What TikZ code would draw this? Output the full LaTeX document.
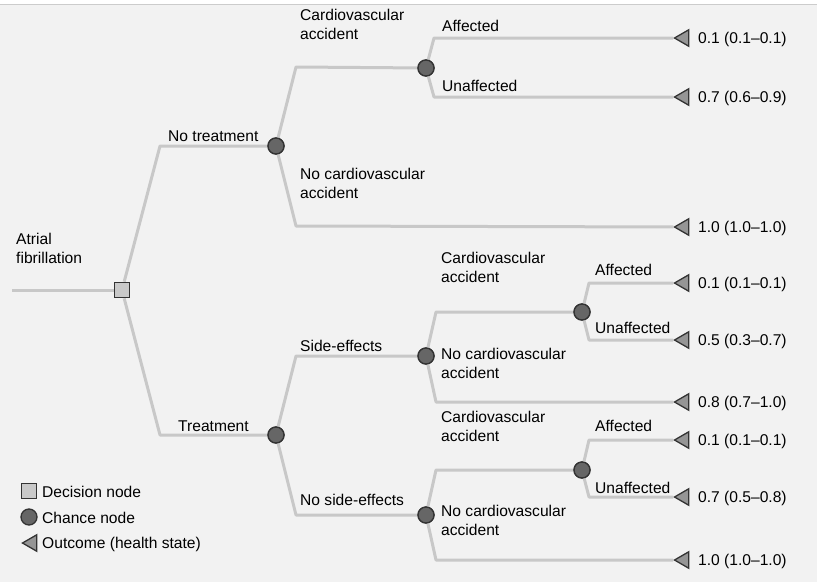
\documentclass[tikz,border=0pt]{standalone}
\usepackage{fontspec}
\setmainfont{Liberation Sans}
\usetikzlibrary{shapes.geometric}
\definecolor{bg}{HTML}{F2F2F2}
\definecolor{edgeline}{HTML}{C8C8C8}
\definecolor{chancefill}{HTML}{666666}
\definecolor{nodeborder}{HTML}{333333}
\definecolor{decfill}{HTML}{C9C9C9}
\definecolor{outfill}{HTML}{959595}
\begin{document}
\begin{tikzpicture}[x=1pt,y=-1pt,
  txt/.style={anchor=base west,inner sep=0pt,align=left,font=\fontsize{15.6}{19}\selectfont,text=black},
  branch/.style={draw=edgeline,line width=3pt,line join=round},
  chance/.style={circle,fill=chancefill,draw=nodeborder,line width=1.3pt,minimum size=16pt,inner sep=0pt},
  decision/.style={rectangle,fill=decfill,draw=nodeborder,line width=1.6pt,minimum size=15pt,inner sep=0pt},
  outcome/.style={regular polygon,regular polygon sides=3,shape border rotate=90,fill=outfill,draw=nodeborder,line width=1.3pt,minimum size=19pt,inner sep=0pt}]
\useasboundingbox (0,0) rectangle (817,582);
\fill[white] (0,0) rectangle (817,582);
\fill[bg] (0,4) rectangle (817,582);
\draw[black!20,line width=1pt] (0,4.5) -- (817,4.5);

% coordinates
\coordinate (start) at (12,290);
\coordinate (k1) at (160,146);
\coordinate (k2) at (160,435);
\coordinate (k3) at (296,67);
\coordinate (k4) at (296,226);
\coordinate (k5) at (434,38);
\coordinate (k6) at (434,97);
\coordinate (k7) at (296,356);
\coordinate (k8) at (296,515);
\coordinate (k9) at (436,312);
\coordinate (k10) at (436,402);
\coordinate (k11) at (589,283);
\coordinate (k12) at (589,340);
\coordinate (k13) at (436,470);
\coordinate (k14) at (436,560);
\coordinate (k15) at (589,440);
\coordinate (k16) at (589,497);

% nodes
\node[decision] (dec) at (122,290) {};
\node[chance] (nt) at (276,146) {};
\node[chance] (tr) at (276,435) {};
\node[chance] (cva1) at (426,68) {};
\node[chance] (se) at (426,356) {};
\node[chance] (nse) at (426,515) {};
\node[chance] (cva2) at (582,312) {};
\node[chance] (cva3) at (582,470) {};
\node[outcome] (o1) at (684,38) {};
\node[outcome] (o2) at (684,97) {};
\node[outcome] (o3) at (684,227) {};
\node[outcome] (o4) at (684,283) {};
\node[outcome] (o5) at (684,340) {};
\node[outcome] (o6) at (684,402) {};
\node[outcome] (o7) at (684,440) {};
\node[outcome] (o8) at (684,497) {};
\node[outcome] (o9) at (684,560) {};

% branches
\draw[branch] (start) -- (dec);
\draw[branch] (dec) -- (k1) -- (nt);
\draw[branch] (dec) -- (k2) -- (tr);
\draw[branch] (nt) -- (k3) -- (cva1);
\draw[branch] (nt) -- (k4) -- (o3);
\draw[branch] (cva1) -- (k5) -- (o1);
\draw[branch] (cva1) -- (k6) -- (o2);
\draw[branch] (tr) -- (k7) -- (se);
\draw[branch] (tr) -- (k8) -- (nse);
\draw[branch] (se) -- (k9) -- (cva2);
\draw[branch] (se) -- (k10) -- (o6);
\draw[branch] (cva2) -- (k11) -- (o4);
\draw[branch] (cva2) -- (k12) -- (o5);
\draw[branch] (nse) -- (k13) -- (cva3);
\draw[branch] (nse) -- (k14) -- (o9);
\draw[branch] (cva3) -- (k15) -- (o7);
\draw[branch] (cva3) -- (k16) -- (o8);

% redraw nodes on top
\node[decision] at (dec) {};
\foreach \n in {nt,tr,cva1,se,nse,cva2,cva3} {\node[chance] at (\n) {};}

% labels
\node[txt] (lAF) at (16,263) {Atrial\\fibrillation};
\node[txt] (lNT) at (168,141) {No treatment};
\node[txt] (lT) at (178,431) {Treatment};
\node[txt] (lCV1) at (300,39) {Cardiovascular\\accident};
\node[txt] (lNCV1) at (300,198) {No cardiovascular\\accident};
\node[txt] (lA1) at (442,31) {Affected};
\node[txt] (lU1) at (442,91) {Unaffected};
\node[txt] (lSE) at (300,351) {Side-effects};
\node[txt] (lNSE) at (300,505) {No side-effects};
\node[txt] (lCV2) at (441,282) {Cardiovascular\\accident};
\node[txt] (lNCV2) at (441,378) {No cardiovascular\\accident};
\node[txt] (lA2) at (595,275) {Affected};
\node[txt] (lU2) at (595,333) {Unaffected};
\node[txt] (lCV3) at (441,441) {Cardiovascular\\accident};
\node[txt] (lNCV3) at (441,535) {No cardiovascular\\accident};
\node[txt] (lA3) at (595,431) {Affected};
\node[txt] (lU3) at (595,493) {Unaffected};

% outcome values
\node[txt] (v1) at (698,43) {0.1 (0.1–0.1)};
\node[txt] (v2) at (698,102) {0.7 (0.6–0.9)};
\node[txt] (v3) at (698,232) {1.0 (1.0–1.0)};
\node[txt] (v4) at (698,288) {0.1 (0.1–0.1)};
\node[txt] (v5) at (698,345) {0.5 (0.3–0.7)};
\node[txt] (v6) at (698,407) {0.8 (0.7–1.0)};
\node[txt] (v7) at (698,445) {0.1 (0.1–0.1)};
\node[txt] (v8) at (698,502) {0.7 (0.5–0.8)};
\node[txt] (v9) at (698,565) {1.0 (1.0–1.0)};

% legend
\node[decision] (legD) at (29,491) {};
\node[chance] (legC) at (29,517) {};
\node[outcome] (legO) at (32,543) {};
\node[txt] (legDt) at (42,497) {Decision node};
\node[txt] (legCt) at (42,523) {Chance node};
\node[txt] (legOt) at (42,548) {Outcome (health state)};
\end{tikzpicture}
\end{document}
